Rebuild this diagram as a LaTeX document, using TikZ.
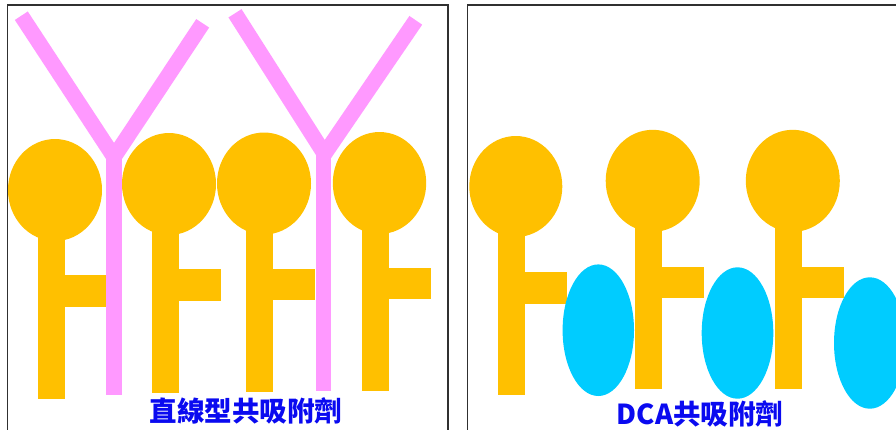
\documentclass[tikz,border=0pt]{standalone}
\usepackage{fontspec}
\newfontfamily\cjkfont{Noto Sans CJK TC}
\definecolor{lipidorange}{HTML}{FFC000}
\definecolor{antipink}{HTML}{FF99FF}
\definecolor{dcacyan}{HTML}{00CCFF}
\definecolor{captionblue}{HTML}{0A0AF0}
\definecolor{frame}{HTML}{303030}
\begin{document}
\begin{tikzpicture}[x=1pt,y=-1pt,
  panel/.style={draw=frame,line width=1.3pt},
  lipid/.style={fill=lipidorange},
  antibody/.style={draw=antipink,line width=15.5pt,line cap=butt,line join=miter},
  dca/.style={fill=dcacyan},
  caption/.style={text=captionblue,font=\cjkfont\bfseries\fontsize{27.5}{31}\selectfont,inner sep=0pt}]
\useasboundingbox (0,0) rectangle (896,429);
\clip (0,0) rectangle (896,429);

% two frames, open past the lower edge
\draw[panel] (7.5,5) rectangle (448,440);
\draw[panel] (467.5,5) rectangle (905,440);

% ---- left frame: amphiphiles ----
\fill[lipid] (55,190) ellipse [x radius=47,y radius=51];
\fill[lipid] (38,230) rectangle (64.7,399);
\fill[lipid] (64.7,275) rectangle (107,307);

\fill[lipid] (169,184) ellipse [x radius=47,y radius=51];
\fill[lipid] (151.7,225) rectangle (178.7,393);
\fill[lipid] (178.7,269) rectangle (220.7,301);

\fill[lipid] (264,183.5) ellipse [x radius=47,y radius=51];
\fill[lipid] (246,225) rectangle (273,392);
\fill[lipid] (273,269) rectangle (315,300);

\fill[lipid] (379.5,183) ellipse [x radius=46.7,y radius=51];
\fill[lipid] (362,225) rectangle (389,391);
\fill[lipid] (389,268) rectangle (431,299);

% linear co-adsorbents (Y shapes)
\coordinate (ja) at (114,157);
\coordinate (la) at (21.3,15.7);
\coordinate (ra) at (202.7,23.3);
\coordinate (ba) at (114,395);
\draw[antibody] (la) -- (ja) -- (ra);
\draw[antibody] (114,150) -- (ba);

\coordinate (jb) at (324.5,154);
\coordinate (lb) at (235,13.3);
\coordinate (rb) at (415.8,20.3);
\coordinate (bb) at (323.7,390.7);
\draw[antibody] (lb) -- (jb) -- (rb);
\draw[antibody] (323.7,147) -- (bb);

\node[caption] (lcap) at (246,411) {直線型共吸附劑};

% ---- right frame: amphiphiles with DCA ----
\fill[lipid] (515.8,186.5) ellipse [x radius=46.5,y radius=50.5];
\fill[lipid] (498.3,230) rectangle (525.3,395);
\fill[lipid] (525.3,272.3) rectangle (567.3,304);

\fill[lipid] (652.7,180.8) ellipse [x radius=47,y radius=51];
\fill[lipid] (635.3,225) rectangle (662.3,389.3);
\fill[lipid] (662.3,266.7) rectangle (704,297.7);

\fill[lipid] (792.8,180.8) ellipse [x radius=47,y radius=51];
\fill[lipid] (775.3,225) rectangle (802.3,389.3);
\fill[lipid] (802.3,266.7) rectangle (844.3,297.7);

\fill[dca] (598.3,330.2) ellipse [x radius=35.7,y radius=65.8];
\fill[dca] (737.5,333) ellipse [x radius=35.8,y radius=65.7];
\fill[dca] (869.8,343) ellipse [x radius=35.8,y radius=65.7];

\node[caption] (rcap) at (700,414) {DCA共吸附劑};
\end{tikzpicture}
\end{document}
